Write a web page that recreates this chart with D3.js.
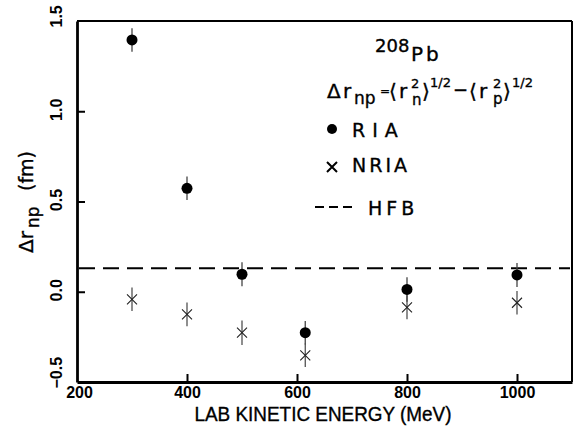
<!DOCTYPE html>
<html>
<head>
<meta charset="utf-8">
<script src="https://cdn.jsdelivr.net/npm/d3@7"></script>
<style>
  html, body { margin: 0; padding: 0; background: #fff; }
  svg { display: block; }
  text { font-family: "DejaVu Sans", "Liberation Sans", Arial, sans-serif; fill: #000; }
  text.ann { stroke: #000; stroke-width: 0.35px; }
</style>
</head>
<body>
<svg id="chart" width="576" height="440"></svg>
<script>
// ---- data ----
const energies = [300, 400, 500, 615, 800, 1000];
const riaValues = [1.395, 0.573, 0.097, -0.227, 0.013, 0.093];
const riaErrors = [0.065, 0.065, 0.066, 0.065, 0.068, 0.066];
const nriaValues = [-0.042, -0.125, -0.227, -0.352, -0.086, -0.061];
const nriaErrors = [0.065, 0.066, 0.068, 0.065, 0.066, 0.065];
const hfbValue = 0.13;
const xTicks = [200, 400, 600, 800, 1000];
const yTicks = [-0.5, 0.0, 0.5, 1.0, 1.5];
const yTickLabels = ["\u22120.5", "0.0", "0.5", "1.0", "1.5"];
const xDomain = [200, 1100];
const yDomain = [-0.5, 1.5];

// ---- layout ----
const svg = d3.select("#chart");
const mLeft = 77, mRight = 572, mTop = 21, mBottom = 382;
const x = d3.scaleLinear().domain(xDomain).range([mLeft, mRight]);
const y = d3.scaleLinear().domain(yDomain).range([mBottom, mTop]);
const tickFont = '"Liberation Sans", Arial, sans-serif';

// frame
svg.append("line").attr("x1", mLeft).attr("x2", mRight).attr("y1", mTop).attr("y2", mTop)
  .attr("stroke", "#000").attr("stroke-width", 2.2);
svg.append("line").attr("x1", mRight).attr("x2", mRight).attr("y1", mTop).attr("y2", mBottom)
  .attr("stroke", "#000").attr("stroke-width", 2);

// bottom axis (inner ticks)
const xAxis = d3.axisBottom(x).tickValues(xTicks).tickSizeInner(-8).tickSizeOuter(0).tickFormat(d3.format("d"));
const gx = svg.append("g").attr("transform", `translate(0,${mBottom})`).call(xAxis);
gx.select(".domain").attr("stroke", "#000").attr("stroke-width", 2.8);
gx.selectAll(".tick line").attr("stroke", "#000").attr("stroke-width", 2);
gx.selectAll(".tick text")
  .attr("y", 16).attr("dy", 0).attr("dx", d => d === 200 ? 2 : 0)
  .style("font-family", tickFont)
  .style("font-size", "16px").style("font-weight", "bold");
gx.selectAll(".tick").filter(d => d === 200).select("line").remove();

// left axis (inner ticks, rotated labels)
const yAxis = d3.axisLeft(y).tickValues(yTicks).tickSizeInner(-8).tickSizeOuter(0)
  .tickFormat((d, i) => yTickLabels[i]);
const gy = svg.append("g").attr("transform", `translate(${mLeft},0)`).call(yAxis);
gy.select(".domain").attr("stroke", "#000").attr("stroke-width", 2.8);
gy.selectAll(".tick line").attr("stroke", "#000").attr("stroke-width", 2);
gy.selectAll(".tick").filter(d => d === -0.5 || d === 1.5).select("line").remove();
gy.selectAll(".tick text")
  .attr("x", null).attr("dy", null)
  .attr("transform", d => {
    let off = -2;
    if (d === -0.5 || d === 1.5) off = 6;
    return `translate(-15,${off}) rotate(-90)`;
  })
  .attr("text-anchor", d => (d === -0.5 || d === 1.5) ? "start" : "middle")
  .style("font-family", tickFont)
  .style("font-size", "16px").style("font-weight", "bold");

// HFB dashed line
svg.append("line")
  .attr("x1", x(xDomain[0]) + 2).attr("x2", x(xDomain[1]) - 2)
  .attr("y1", y(hfbValue)).attr("y2", y(hfbValue))
  .attr("stroke", "#000").attr("stroke-width", 2)
  .attr("stroke-dasharray", "16,8");

// NRIA error bars + x markers
const nria = energies.map((e, i) => ({e, v: nriaValues[i], err: nriaErrors[i]}));
const gN = svg.append("g");
gN.selectAll("line.err").data(nria).join("line").attr("class", "err")
  .attr("x1", d => x(d.e)).attr("x2", d => x(d.e))
  .attr("y1", d => y(d.v + d.err)).attr("y2", d => y(d.v - d.err))
  .attr("stroke", "#444").attr("stroke-width", 1.2);
gN.selectAll("path.mk").data(nria).join("path").attr("class", "mk")
  .attr("d", d => {
    const cx = x(d.e), cy = y(d.v), s = 5;
    return `M${cx - s},${cy - s}L${cx + s},${cy + s}M${cx - s},${cy + s}L${cx + s},${cy - s}`;
  })
  .attr("stroke", "#222").attr("stroke-width", 1.1).attr("fill", "none");

// RIA error bars + dots
const ria = energies.map((e, i) => ({e, v: riaValues[i], err: riaErrors[i]}));
const gR = svg.append("g");
gR.selectAll("line").data(ria).join("line")
  .attr("x1", d => x(d.e)).attr("x2", d => x(d.e))
  .attr("y1", d => y(d.v + d.err)).attr("y2", d => y(d.v - d.err))
  .attr("stroke", "#444").attr("stroke-width", 1.3);
gR.selectAll("circle").data(ria).join("circle")
  .attr("cx", d => x(d.e)).attr("cy", d => y(d.v)).attr("r", 5.5)
  .attr("fill", "#000");

// ---- annotations / legend ----
function txt(s, tx, ty, size, extra) {
  const t = svg.append("text").attr("class", "ann").attr("x", tx).attr("y", ty)
    .style("font-size", size + "px").text(s);
  if (extra) extra(t);
  return t;
}
// 208Pb
txt("208", 375, 52, 18);
txt("Pb", 411, 61, 20, t => t.attr("letter-spacing", 3));

// formula
txt("\u0394", 327, 98, 20);
txt("r", 343, 98, 20);
txt("np", 354, 104, 17);
txt("=", 380, 95, 12);
txt("\u27E8", 389, 98, 20);
txt("r", 399, 98, 20);
txt("2", 411, 88, 13);
txt("n", 412, 105, 15);
txt("\u27E9", 422, 98, 20);
txt("1/2", 430, 87, 13);
txt("\u2212", 453, 96, 18);
txt("\u27E8", 469, 98, 20);
txt("r", 479, 98, 20);
txt("2", 493, 88, 13);
txt("p", 493, 104, 15);
txt("\u27E9", 503, 98, 20);
txt("1/2", 512, 87, 13);

// legend entries
svg.append("circle").attr("cx", 332).attr("cy", 129).attr("r", 5).attr("fill", "#000");
txt("RIA", 352, 137, 19, t => t.attr("letter-spacing", 7));
svg.append("path").attr("d", "M327,162L337,172M327,172L337,162").attr("stroke", "#000").attr("stroke-width", 2);
txt("NRIA", 352, 172, 19, t => t.attr("letter-spacing", 3));
svg.append("line").attr("x1", 315).attr("x2", 353).attr("y1", 207).attr("y2", 207)
  .attr("stroke", "#000").attr("stroke-width", 1.8).attr("stroke-dasharray", "9,5");
txt("HFB", 368, 215, 19, t => t.attr("letter-spacing", 4));

// axis titles
txt("LAB KINETIC ENERGY (MeV)", 323, 421, 20, t => t.attr("text-anchor", "middle")
  .style("font-family", tickFont)
  .attr("textLength", 257).attr("lengthAdjust", "spacingAndGlyphs"));

const yl = svg.append("g").attr("transform", "translate(33,253) rotate(-90)");
yl.append("text").attr("class", "ann").attr("x", 0).attr("y", 0).style("font-size", "20px").text("\u0394r");
yl.append("text").attr("class", "ann").attr("x", 25).attr("y", 6).style("font-size", "17px").text("np");
yl.append("text").attr("class", "ann").attr("x", 62).attr("y", 0).style("font-size", "19px").text("(fm)");
</script>
</body>
</html>
